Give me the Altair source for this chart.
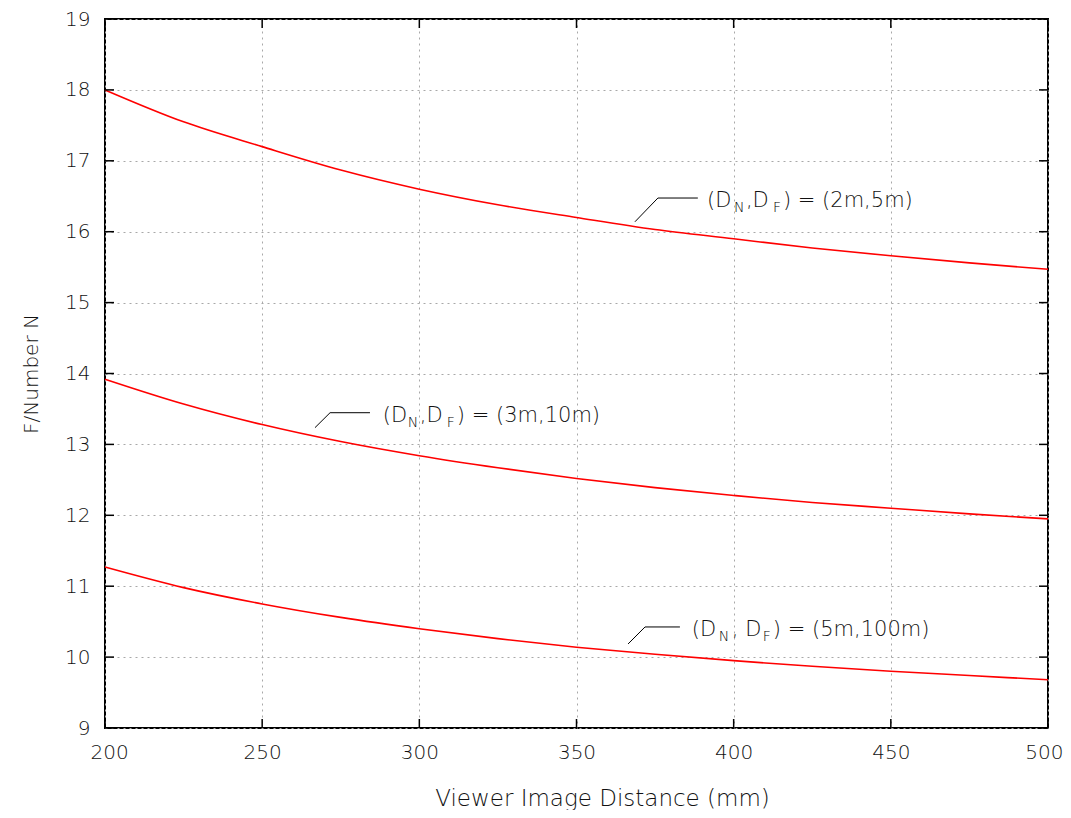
import altair as alt
import pandas as pd

# ---- data ----
dist = [200, 225, 250, 275, 300, 325, 350, 375, 400, 425, 450, 475, 500]
n_2m_5m = [18.0, 17.55, 17.2, 16.87, 16.6, 16.38, 16.2, 16.03, 15.9, 15.77, 15.66, 15.56, 15.47]
n_3m_10m = [13.92, 13.57, 13.28, 13.04, 12.84, 12.67, 12.52, 12.39, 12.28, 12.18, 12.1, 12.02, 11.95]
n_5m_100m = [11.27, 10.98, 10.75, 10.56, 10.4, 10.26, 10.14, 10.04, 9.95, 9.87, 9.8, 9.74, 9.68]
series_names = ["(2m,5m)", "(3m,10m)", "(5m,100m)"]

x_ticks = [200, 250, 300, 350, 400, 450, 500]
y_ticks = [9, 10, 11, 12, 13, 14, 15, 16, 17, 18, 19]

# leader lines (data coordinates) : label -> points
leader_x = [[368.6, 375.9, 388.6], [266.8, 271.6, 284.3], [366.4, 371.8, 382.9]]
leader_y = [[16.14, 16.475, 16.475], [13.236, 13.447, 13.447], [10.185, 10.425, 10.425]]
label_x = [391.5, 288.4, 386.7]
label_y = [16.475, 13.447, 10.425]
label_parts = [
    ["(D", "N", ",D", "F", ") = (2m,5m)"],
    ["(D", "N", ",D", "F", ") = (3m,10m)"],
    ["(D", "N", ", D", "F", ") = (5m,100m)"],
]
# pixel offsets of each text piece (styling)
label_dx = [[0, 27, 39, 66, 76], [0, 25, 37, 64, 74], [0, 27, 40, 71, 81]]
is_sub = [False, True, False, True, False]

W, H = 943, 709
FONT = "DejaVu Sans"
TXT = "#111111"
WEIGHT = 300

rows = []
for name, vals in zip(series_names, [n_2m_5m, n_3m_10m, n_5m_100m]):
    for d, v in zip(dist, vals):
        rows.append({"series": name, "d": d, "n": v})
df = pd.DataFrame(rows)

xs = alt.Scale(domain=[200, 500], nice=False, zero=False)
ys = alt.Scale(domain=[9, 19], nice=False, zero=False)

base_x_axis = alt.Axis(
    values=x_ticks, format="d", grid=True, gridColor="#a8a8a8", gridDash=[2, 4], gridWidth=1,
    domain=False, ticks=False, labelFlush=True, labelFlushOffset=15, labelFont=FONT,
    labelFontSize=20, labelFontWeight=WEIGHT, labelColor=TXT,
    labelPadding=14, title="Viewer Image Distance (mm)", titleFont=FONT,
    titleFontSize=23, titleFontWeight=WEIGHT, titleColor=TXT, titleX=497, titleY=77,
    titleAlign="center", titleBaseline="alphabetic",
)
base_y_axis = alt.Axis(
    values=y_ticks, format="d", grid=True, gridColor="#a8a8a8", gridDash=[2, 4], gridWidth=1,
    domain=False, ticks=False, labelFlush=False, labelFont=FONT, labelFontSize=20,
    labelFontWeight=WEIGHT, labelColor=TXT,
    labelPadding=15, title="F/Number N", titleFont=FONT, titleFontSize=20,
    titleFontWeight=WEIGHT, titleColor=TXT, titleAngle=270, titleX=-68, titleY=354.5,
    titleAlign="center", titleBaseline="alphabetic",
)

lines = alt.Chart(df).mark_line(color="#ff0000", strokeWidth=1.6, interpolate="monotone").encode(
    x=alt.X("d:Q", scale=xs, axis=base_x_axis),
    y=alt.Y("n:Q", scale=ys, axis=base_y_axis),
    detail="series:N",
)

yt = pd.DataFrame({"v": y_ticks})
xt = pd.DataFrame({"v": x_ticks})
tick_len = 9
left_ticks = alt.Chart(yt).mark_rule(color="#000", strokeWidth=1.5).encode(
    y=alt.Y("v:Q", scale=ys), x=alt.value(0), x2=alt.value(tick_len))
right_ticks = alt.Chart(yt).mark_rule(color="#000", strokeWidth=1.5).encode(
    y=alt.Y("v:Q", scale=ys), x=alt.value(W - tick_len), x2=alt.value(W))
bottom_ticks = alt.Chart(xt).mark_rule(color="#000", strokeWidth=1.5).encode(
    x=alt.X("v:Q", scale=xs), y=alt.value(H - tick_len), y2=alt.value(H))
top_ticks = alt.Chart(xt).mark_rule(color="#000", strokeWidth=1.5).encode(
    x=alt.X("v:Q", scale=xs), y=alt.value(0), y2=alt.value(tick_len))

lrows = []
for i in range(3):
    for j, (lx, ly) in enumerate(zip(leader_x[i], leader_y[i])):
        lrows.append({"lab": i, "o": j, "x": lx, "y": ly})
leaders = alt.Chart(pd.DataFrame(lrows)).mark_line(color="#000", strokeWidth=1).encode(
    x=alt.X("x:Q", scale=xs), y=alt.Y("y:Q", scale=ys), detail="lab:N", order="o:Q")

layers = [lines, left_ticks, right_ticks, bottom_ticks, top_ticks, leaders]
for i in range(3):
    for j, part in enumerate(label_parts[i]):
        sub = is_sub[j]
        t = alt.Chart(pd.DataFrame({"x": [label_x[i]], "y": [label_y[i]], "t": [part]})).mark_text(
            font=FONT, fontSize=14 if sub else 21, fontWeight=WEIGHT,
            color="#000000" if sub else TXT, align="left",
            baseline="alphabetic", dx=label_dx[i][j], dy=14 if sub else 9,
        ).encode(x=alt.X("x:Q", scale=xs), y=alt.Y("y:Q", scale=ys), text="t:N")
        layers.append(t)

chart = alt.layer(*layers).properties(
    width=W, height=H,
    autosize=alt.AutoSizeParams(type="none"),
    padding={"left": 97, "top": 11, "right": 15, "bottom": 82},
    background="white",
).configure_view(stroke="#000000", strokeWidth=2)

chart.save("out.html", embed_options={"renderer": "svg", "actions": False})
